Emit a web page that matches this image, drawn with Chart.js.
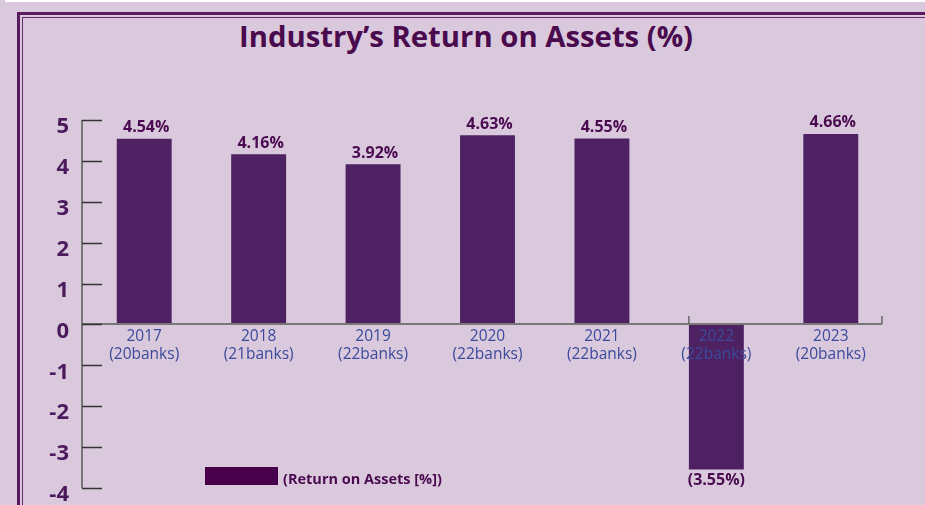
<!DOCTYPE html>
<html>
<head>
<meta charset="utf-8">
<script src="https://cdn.jsdelivr.net/npm/chart.js@4"></script>
<style>
  html, body { margin: 0; padding: 0; background: #dac9dc; overflow: hidden; }
  #wrap { position: relative; width: 925px; height: 505px; }
  #topStrip { position: absolute; left: 5px; top: 0; width: 920px; height: 2px; background: #fff; }
  #frameOuter { position: absolute; left: 17px; top: 12px; width: 1000px; height: 600px; border: 3px solid #5a1a5e; }
  #frameInner { position: absolute; left: 22px; top: 17px; width: 1000px; height: 600px; border: 1px solid #6a2a6e; }
  canvas { position: absolute; left: 0; top: 0; }
  #title { position: absolute; left: 0; width: 932px; top: 16px; text-align: center;
           font: bold 29.3px "Open Sans", sans-serif; color: #4a0a4e; }
  #legend { position: absolute; left: 205px; top: 466px; display: flex; align-items: center;
            font: bold 14.5px "Open Sans", sans-serif; color: #4a0a50; }
  #legend .sw { width: 73px; height: 18px; background: #48004c; margin-right: 5px; }
  #legend span { position: relative; top: 3px; }
</style>
</head>
<body>
<div id="wrap">
  <div id="topStrip"></div>
  <div id="frameOuter"></div>
  <div id="frameInner"></div>
  <div id="title">Industry’s Return on Assets (%)</div>
  <canvas id="roaChart" width="925" height="505"></canvas>
  <div id="legend"><div class="sw"></div><span>(Return on Assets [%])</span></div>
</div>
<script>
// 数据
const years = ['2017', '2018', '2019', '2020', '2021', '2022', '2023'];
const bankCounts = ['(20banks)', '(21banks)', '(22banks)', '(22banks)', '(22banks)', '(22banks)', '(20banks)'];
const roaValues = [4.54, 4.16, 3.92, 4.63, 4.55, -3.55, 4.66];
const yTicks = [-4, -3, -2, -1, 0, 1, 2, 3, 4, 5];

const purple = '#4e2262';
const labelPurple = '#4a0a50';
const AXIS_SHIFT = 5; // 坐标轴线相对绘图区左移

// 柱顶数值标签
const valueLabels = {
  id: 'valueLabels',
  afterDatasetsDraw(chart) {
    const ctx = chart.ctx;
    const meta = chart.getDatasetMeta(0);
    ctx.save();
    ctx.font = 'bold 16px "Open Sans", sans-serif';
    ctx.fillStyle = labelPurple;
    ctx.textAlign = 'center';
    meta.data.forEach((bar, i) => {
      const v = roaValues[i];
      if (v >= 0) {
        ctx.textBaseline = 'bottom';
        ctx.fillText(v.toFixed(2) + '%', bar.x + 2, bar.y - 3);
      } else {
        ctx.textBaseline = 'top';
        ctx.fillText('(' + Math.abs(v).toFixed(2) + '%)', bar.x, bar.y + 3);
      }
    });
    ctx.restore();
  }
};

// 坐标轴线、y轴向内刻度、x轴小刻度
const axisLines = {
  id: 'axisLines',
  afterDatasetsDraw(chart) {
    const ctx = chart.ctx;
    const y = chart.scales.y;
    const area = chart.chartArea;
    const ax = area.left - AXIS_SHIFT;
    const axRight = area.right - AXIS_SHIFT - 1;
    const zero = Math.round(y.getPixelForValue(0));
    ctx.save();
    // y轴线
    ctx.strokeStyle = '#777';
    ctx.lineWidth = 2;
    ctx.beginPath();
    ctx.moveTo(ax, y.getPixelForValue(5));
    ctx.lineTo(ax, y.getPixelForValue(-4));
    ctx.stroke();
    // x轴线
    ctx.beginPath();
    ctx.moveTo(ax, zero);
    ctx.lineTo(axRight, zero);
    ctx.stroke();
    // y刻度
    ctx.strokeStyle = '#333';
    ctx.lineWidth = 1.5;
    y.ticks.forEach(t => {
      const py = Math.round(y.getPixelForValue(t.value)) + 0.5;
      ctx.beginPath();
      ctx.moveTo(ax, py);
      ctx.lineTo(ax + 20, py);
      ctx.stroke();
    });
    // x小刻度
    ctx.strokeStyle = '#666';
    const meta = chart.getDatasetMeta(0);
    const marks = [axRight];
    meta.data.forEach((bar, i) => { if (roaValues[i] < 0) marks.push(bar.x - bar.width / 2); });
    marks.forEach(px => {
      ctx.beginPath();
      ctx.moveTo(px, zero);
      ctx.lineTo(px, zero - 8);
      ctx.stroke();
    });
    ctx.restore();
  }
};

new Chart(document.getElementById('roaChart'), {
  type: 'bar',
  data: {
    labels: years.map((yr, i) => [yr, bankCounts[i]]),
    datasets: [{
      label: '(Return on Assets [%])',
      data: roaValues,
      backgroundColor: purple,
      borderWidth: 0,
      categoryPercentage: 0.96,
      barPercentage: 0.5
    }]
  },
  options: {
    responsive: false,
    animation: false,
    layout: { padding: { left: 0, right: 37, top: 120, bottom: 17 } },
    plugins: {
      legend: { display: false },
      tooltip: { enabled: false },
      title: { display: false }
    },
    scales: {
      x: {
        position: { y: 0 },
        grid: { display: false, tickLength: 0 },
        border: { display: false },
        ticks: {
          z: 1,
          color: '#3b4a9c',
          font: { family: 'Open Sans', size: 15.5, lineHeight: 1.15 },
          padding: 3,
          maxRotation: 0,
          autoSkip: false
        }
      },
      y: {
        min: -4,
        max: 5,
        afterFit: s => { s.width = 87; },
        afterBuildTicks: s => { s.ticks = yTicks.map(v => ({ value: v })); },
        grid: { display: false },
        border: { display: false },
        ticks: {
          color: '#4b1a5c',
          font: { family: 'Open Sans', size: 22, weight: 'bold', lineHeight: 0.5 },
          padding: 10,
          labelOffset: 7
        }
      }
    }
  },
  plugins: [valueLabels, axisLines]
});
</script>
</body>
</html>
